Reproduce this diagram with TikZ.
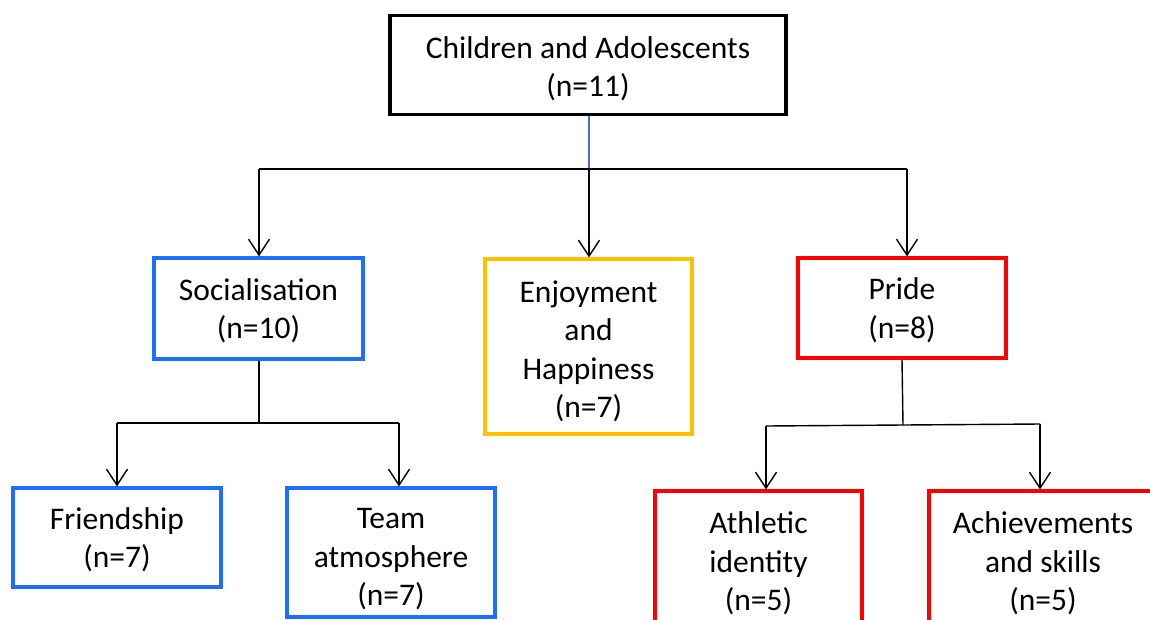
\documentclass[tikz,border=0pt]{standalone}
\usepackage{fontspec}
\setmainfont{Carlito}
\usetikzlibrary{arrows.meta}
\definecolor{bxblue}{RGB}{30,110,255}
\definecolor{bxyellow}{RGB}{255,192,0}
\definecolor{bxred}{RGB}{255,0,0}
\definecolor{lnblue}{RGB}{68,114,196}
\tikzset{
  box/.style={draw, line width=3.2pt, inner sep=0pt},
  txt/.style={inner sep=0pt, align=center,
    font=\fontsize{31.5}{38.5}\selectfont, text=black},
  conn/.style={draw=black, line width=1.4pt},
  arr/.style={conn, -{Straight Barb[length=16pt, width=21pt, line width=1.4pt]}},
}
\begin{document}
\begin{tikzpicture}[x=1pt, y=-1pt]
\useasboundingbox (0,0) rectangle (1150,619);
\clip (0,0) rectangle (1150,619);
\fill[white] (0,0) rectangle (1150,619);

\node[box, draw=black, minimum width=396pt, minimum height=99pt] (top) at (588,65) {};
\node[box, draw=bxblue, minimum width=209pt, minimum height=101pt] (soc) at (258.5,308.5) {};
\node[box, draw=bxyellow, minimum width=207pt, minimum height=175pt] (enj) at (588.5,346.5) {};
\node[box, draw=bxred, minimum width=208pt, minimum height=100pt] (pride) at (902,308) {};
\node[box, draw=bxblue, minimum width=208pt, minimum height=99pt] (friend) at (117,537.5) {};
\node[box, draw=bxblue, minimum width=208pt, minimum height=129pt] (team) at (391,552.5) {};
\node[box, draw=bxred, minimum width=207pt, minimum height=140pt] (ath) at (758.5,561) {};
\node[box, draw=bxred, minimum width=228pt, minimum height=140pt] (ach) at (1043,561) {};

\node[txt, yshift=-3.5pt] (topT) at (top) {Children and Adolescents\\(n=11)};
\node[txt, yshift=-2pt] (socT) at (soc) {Socialisation\\(n=10)};
\node[txt, yshift=-5pt] (enjT) at (enj) {Enjoyment\\and\\Happiness\\(n=7)};
\node[txt, yshift=-2pt] (prideT) at (pride) {Pride\\(n=8)};
\node[txt, yshift=-2pt] (friendT) at (friend) {Friendship\\(n=7)};
\node[txt, yshift=-7pt] (teamT) at (team) {Team\\atmosphere\\(n=7)};
\node[txt, yshift=-2.5pt] (athT) at (ath) {Athletic\\identity\\(n=5)};
\node[txt, yshift=-2.5pt] (achT) at (ach) {Achievements\\and skills\\(n=5)};

% top level connectors
\coordinate (t0) at (589,169);
\coordinate (tL) at (259,169);
\coordinate (tR) at (907,169);
\draw[draw=lnblue, line width=1.2pt] (top.south -| t0) -- (t0);
\draw[conn] (tL) -- (tR);
\draw[arr] (tL) -- (tL |- soc.north);
\draw[arr] (t0) -- (t0 |- enj.north);
\draw[arr] (tR) -- (tR |- pride.north);

% socialisation connectors
\coordinate (s0) at (259,423);
\coordinate (sL) at (117,423);
\coordinate (sR) at (399,423);
\draw[conn] (soc.south -| s0) -- (s0);
\draw[conn] (sL) -- (sR);
\draw[arr] (sL) -- (sL |- friend.north);
\draw[arr] (sR) -- (sR |- team.north);

% pride connectors
\coordinate (p0) at (903,425);
\coordinate (pL) at (766,426);
\coordinate (pR) at (1040,424);
\draw[conn] (pride.south -| 902,0) -- (p0);
\draw[conn] (pL) -- (pR);
\draw[arr] (pL) -- (pL |- ath.north);
\draw[arr] (pR) -- (pR |- ach.north);
\end{tikzpicture}
\end{document}
